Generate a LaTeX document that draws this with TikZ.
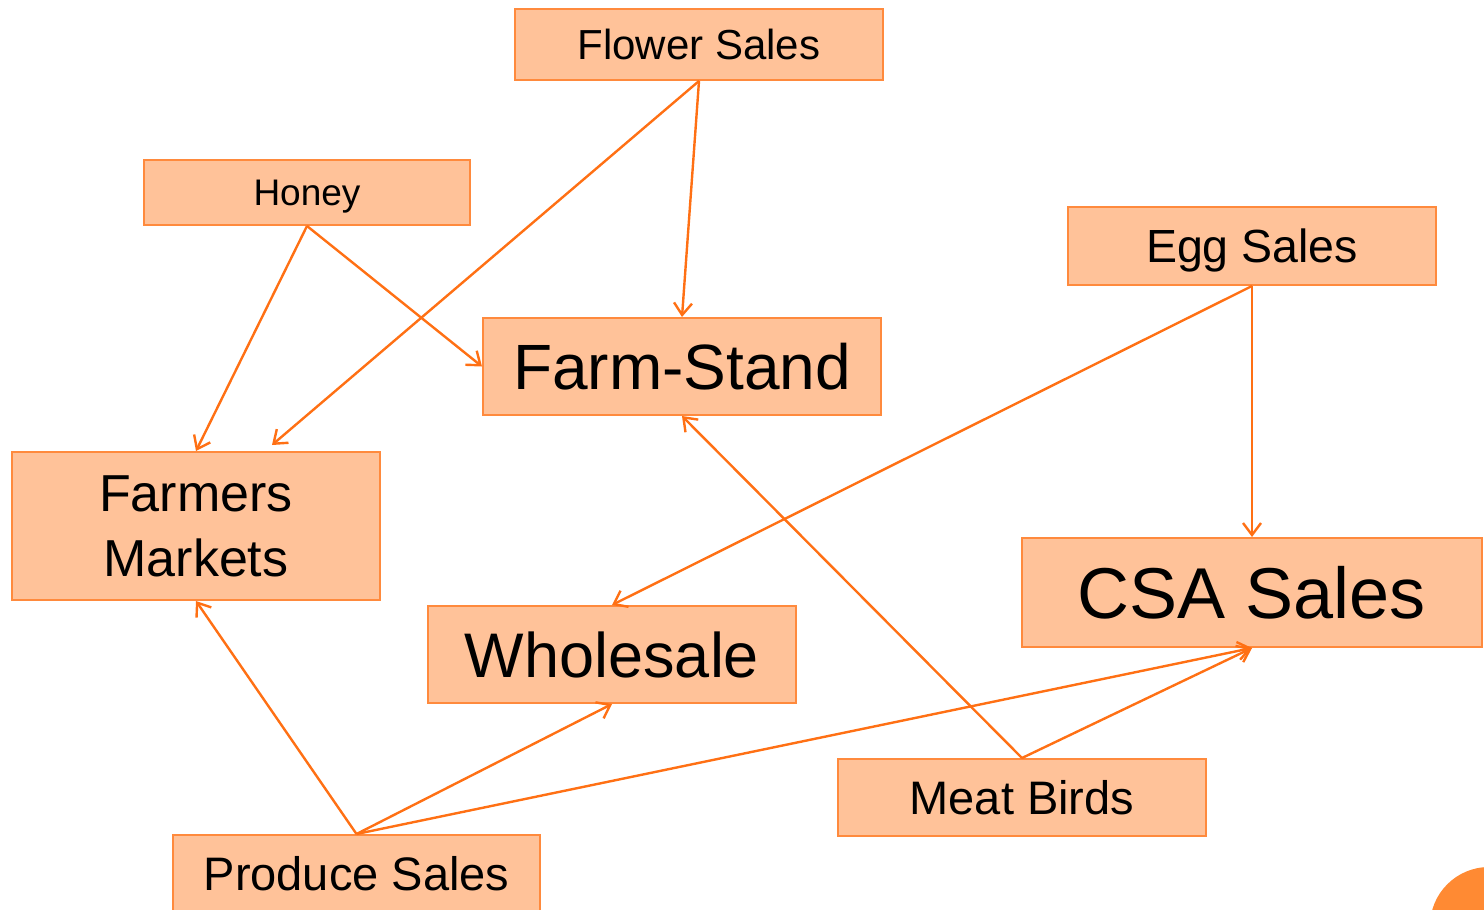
\documentclass[tikz,border=0pt]{standalone}
\usepackage{fontspec}
\setmainfont{Liberation Sans}
\usetikzlibrary{arrows.meta}
\definecolor{farmpeach}{HTML}{FFC299}
\definecolor{farmedge}{HTML}{FF8A3D}
\definecolor{farmline}{HTML}{FF7014}
\definecolor{farmdot}{HTML}{FF8A33}

\begin{document}
\begin{tikzpicture}[x=1pt, y=-1pt,
      box/.style={
        rectangle, draw=farmedge, line width=2pt, fill=farmpeach,
        inner sep=0pt, align=center, text=black
      },
      arrow/.style={-{Straight Barb[length=12pt, width=18pt]}, line width=2.4pt, farmline}
    ]
      \useasboundingbox (0,0) rectangle (1484,910);

      % Corner dot
      \fill[farmdot] (1489,926) circle (59pt);

      % Sources
      \node[box, minimum width=368pt, minimum height=71pt, font=\fontsize{42}{50}\selectfont]
        (flower) at (699,44.5) {Flower Sales};
      \node[box, minimum width=326pt, minimum height=65pt, text depth=0pt, font=\fontsize{37}{44}\selectfont]
        (honey) at (307,192.5) {Honey};
      \node[box, minimum width=368pt, minimum height=78pt, text depth=0pt, font=\fontsize{46.5}{56}\selectfont]
        (egg) at (1252,246) {Egg Sales};
      \node[box, minimum width=368pt, minimum height=77pt, font=\fontsize{47}{56}\selectfont]
        (meat) at (1022,797.5) {Meat Birds};
      \node[box, minimum width=367pt, minimum height=78pt, font=\fontsize{47}{56}\selectfont]
        (produce) at (356.5,874) {Produce Sales};

      % Outlets
      \node[box, minimum width=398pt, minimum height=97pt, font=\fontsize{64}{76}\selectfont]
        (stand) at (682,366.5) {Farm-Stand};
      \node[box, minimum width=368pt, minimum height=148pt, font=\fontsize{52}{65}\selectfont]
        (markets) at (196,526) {Farmers\\Markets};
      \node[box, minimum width=460pt, minimum height=109pt, font=\fontsize{72}{86}\selectfont]
        (csa) at (1252,592.5) {CSA Sales};
      \node[box, minimum width=368pt, minimum height=97pt, font=\fontsize{63}{76}\selectfont]
        (wholesale) at (612,654.5) {Wholesale};

      % Flows
      \draw[arrow] (flower.south) -- (stand.north);
      \draw[arrow] (flower.south) -- ([xshift=76pt, yshift=6pt]markets.north);
      \draw[arrow] (honey.south) -- (markets.north);
      \draw[arrow] (honey.south) -- (stand.west);
      \draw[arrow] (egg.south) -- (csa.north);
      \draw[arrow] (egg.south) -- (wholesale.north);
      \draw[arrow] (meat.north) -- (stand.south);
      \draw[arrow] (meat.north) -- (csa.south);
      \draw[arrow] (produce.north) -- (markets.south);
      \draw[arrow] (produce.north) -- (wholesale.south);
      \draw[arrow] (produce.north) -- (csa.south);
    \end{tikzpicture}
\end{document}
